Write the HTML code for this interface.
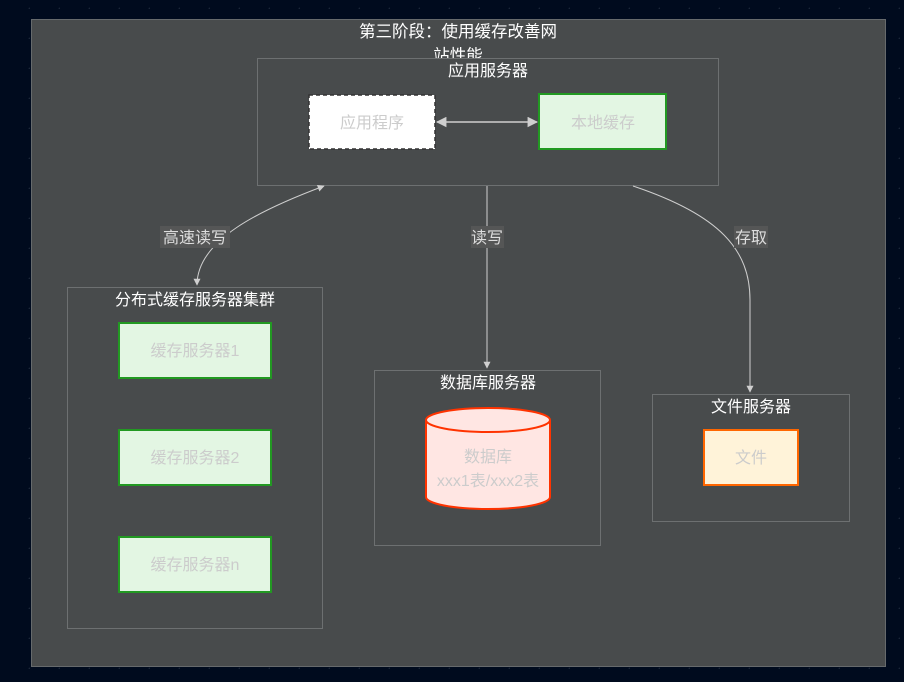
<!DOCTYPE html>
<html><head><meta charset="utf-8"><style>
body{margin:0;width:904px;height:682px;overflow:hidden;background:#000b1e;}
svg{display:block}
text{font-family:"Liberation Sans","Noto Sans CJK SC",sans-serif;}
</style></head><body>
<svg width="904" height="682" viewBox="0 0 904 682">
<defs>
<pattern id="dots" width="30" height="30" patternUnits="userSpaceOnUse" x="0" y="-21">
<circle cx="30" cy="30" r="1.5" fill="#1a2538"/></pattern>
<marker id="a" viewBox="0 0 10 10" refX="9" refY="5" markerWidth="7" markerHeight="7" orient="auto-start-reverse"><path d="M0,0L10,5L0,10z" fill="#cfcfcf"/></marker>
</defs>
<rect width="904" height="682" fill="url(#dots)"/>
<rect x="31.5" y="19.5" width="854" height="647" fill="#484b4c" stroke="#666a6c"/>
<text x="458" y="37" fill="#fff" font-size="16.5" text-anchor="middle">第三阶段：使用缓存改善网</text>
<text x="458" y="61" fill="#fff" font-size="16.5" text-anchor="middle">站性能</text>
<rect x="257.5" y="58.5" width="461" height="127" fill="#484b4c" stroke="#6d7071"/>
<text x="488" y="76" fill="#fff" font-size="16" text-anchor="middle">应用服务器</text>
<rect x="309" y="95" width="126" height="54" fill="#fff" stroke="#333" stroke-width="1.5" stroke-dasharray="4,3"/>
<text x="372" y="128" fill="#ccc" font-size="16" text-anchor="middle">应用程序</text>
<rect x="539" y="94" width="127" height="55" fill="#e3f6e3" stroke="#229922" stroke-width="2"/>
<text x="603" y="128" fill="#ccc" font-size="16" text-anchor="middle">本地缓存</text>
<line x1="437" y1="122" x2="537" y2="122" stroke="#cfcfcf" stroke-width="1.5" marker-start="url(#a)" marker-end="url(#a)"/>
<rect x="67.5" y="287.5" width="255" height="341" fill="#484b4c" stroke="#6d7071"/>
<text x="195" y="305" fill="#fff" font-size="16" text-anchor="middle">分布式缓存服务器集群</text>
<rect x="119" y="323" width="152" height="55" fill="#e3f6e3" stroke="#229922" stroke-width="2"/>
<text x="195" y="356" fill="#ccc" font-size="16" text-anchor="middle">缓存服务器1</text>
<rect x="119" y="430" width="152" height="55" fill="#e3f6e3" stroke="#229922" stroke-width="2"/>
<text x="195" y="463" fill="#ccc" font-size="16" text-anchor="middle">缓存服务器2</text>
<rect x="119" y="537" width="152" height="55" fill="#e3f6e3" stroke="#229922" stroke-width="2"/>
<text x="195" y="570" fill="#ccc" font-size="16" text-anchor="middle">缓存服务器n</text>
<rect x="374.5" y="370.5" width="226" height="175" fill="#484b4c" stroke="#6d7071"/>
<text x="488" y="388" fill="#fff" font-size="16" text-anchor="middle">数据库服务器</text>
<path d="M426,420 V497 A62,12 0 0 0 550,497 V420" fill="#ffe6e3" stroke="#ff3300" stroke-width="2"/>
<ellipse cx="488" cy="420" rx="62" ry="12" fill="#ffe6e3" stroke="#ff3300" stroke-width="2"/>
<text x="488" y="462" fill="#ccc" font-size="16" text-anchor="middle">数据库</text>
<text x="488" y="486" fill="#ccc" font-size="16" text-anchor="middle">xxx1表/xxx2表</text>
<rect x="652.5" y="394.5" width="197" height="127" fill="#484b4c" stroke="#6d7071"/>
<text x="751" y="412" fill="#fff" font-size="16" text-anchor="middle">文件服务器</text>
<rect x="704" y="430" width="94" height="55" fill="#fff3d9" stroke="#ff6600" stroke-width="2"/>
<text x="751" y="463" fill="#ccc" font-size="16" text-anchor="middle">文件</text>
<path d="M197,285 C197,240 260,210 324,186" fill="none" stroke="#cfcfcf" stroke-width="1" marker-start="url(#a)" marker-end="url(#a)"/>
<line x1="487" y1="186" x2="487" y2="368" stroke="#cfcfcf" stroke-width="1" marker-end="url(#a)"/>
<path d="M633,186 C720,215 750,250 750,300 V392" fill="none" stroke="#cfcfcf" stroke-width="1" marker-end="url(#a)"/>
<rect x="160" y="226" width="70" height="22" fill="#555656"/>
<text x="195" y="243" fill="#ddd" font-size="16" text-anchor="middle">高速读写</text>
<rect x="471" y="226" width="33" height="22" fill="#555656"/>
<text x="487" y="243" fill="#ddd" font-size="16" text-anchor="middle">读写</text>
<rect x="734" y="226" width="34" height="22" fill="#555656"/>
<text x="751" y="243" fill="#ddd" font-size="16" text-anchor="middle">存取</text>
</svg>
</body></html>
